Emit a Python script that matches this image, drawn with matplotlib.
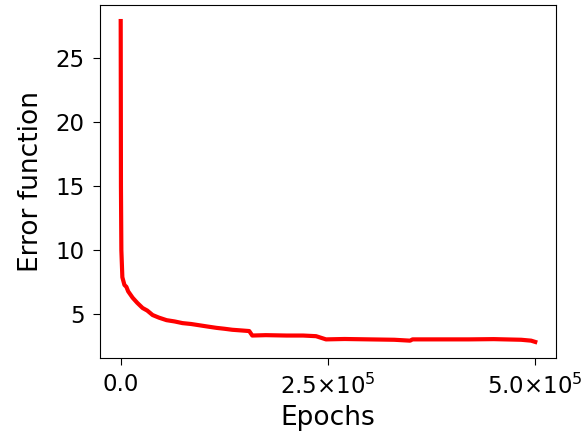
import matplotlib
matplotlib.use("Agg")
import matplotlib.pyplot as plt
from matplotlib.ticker import FuncFormatter, FixedLocator

epochs = [0, 300, 800, 2000, 4500, 6850, 9000, 14400, 20000, 26400, 32000,
          38500, 46000, 55300, 65000, 74500, 85000, 95000, 105000, 115400,
          125000, 134600, 145000, 155000, 158700, 175000, 200000, 220000,
          235600, 247600, 270000, 300000, 330000, 349000, 352000, 380000,
          420000, 450000, 483000, 495000, 500000]
error = [27.9, 15.0, 10.0, 7.9, 7.3, 7.15, 6.8, 6.3, 5.9, 5.5, 5.3,
         4.95, 4.75, 4.55, 4.45, 4.32, 4.25, 4.15, 4.05, 3.95,
         3.88, 3.8, 3.75, 3.7, 3.35, 3.38, 3.35, 3.35,
         3.3, 3.05, 3.08, 3.05, 3.02, 2.95, 3.05, 3.05,
         3.05, 3.07, 3.02, 2.95, 2.85]

xticks = [0, 250000, 500000]
xtick_labels = ["0.0", r"$2.5{\times}10^{5}$", r"$5.0{\times}10^{5}$"]
yticks = [5, 10, 15, 20, 25]

fig = plt.figure(figsize=(5.86, 4.43), dpi=100)
ax = fig.add_axes([0.1706, 0.1919, 0.7782, 0.7968])
ax.plot(epochs, error, color="red", linewidth=3.0, solid_joinstyle="round")
ax.xaxis.set_major_locator(FixedLocator(xticks))
ax.xaxis.set_major_formatter(FuncFormatter(lambda v, p: xtick_labels[xticks.index(v)] if v in xticks else ""))
ax.set_yticks(yticks)
ax.tick_params(labelsize=16.5, length=5, pad=6)
ax.set_xlabel("Epochs", fontsize=19, labelpad=5)
ax.set_ylabel("Error function", fontsize=19, labelpad=8)
fig.savefig("out.png", dpi=100)
